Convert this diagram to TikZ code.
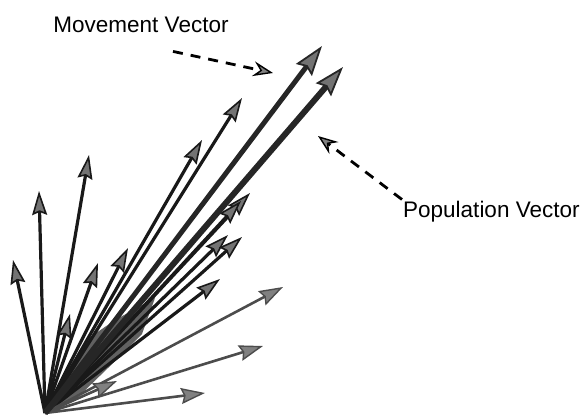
\documentclass[tikz,border=0pt]{standalone}
\usepackage{fontspec}
\setmainfont{Liberation Sans}
\usepackage{tikz}
\usetikzlibrary{arrows.meta}

\begin{document}
\begin{tikzpicture}[x=1pt, y=-1pt,
    vec/.style={line width=3.2pt, draw=black!90,
      -{Stealth[length=24pt, width=15pt, inset=3pt, line width=1.6pt, fill=black!55]}},
    faint/.style={line width=2.6pt, draw=black!70,
      -{Stealth[length=24pt, width=16pt, inset=3pt, line width=1.4pt, fill=black!50]}},
    bigvec/.style={line width=5pt, draw=black!85,
      -{Stealth[length=30pt, width=20pt, inset=4pt, line width=1.8pt, fill=black!55]}},
    pointer/.style={line width=2.8pt, dash pattern=on 10pt off 8pt,
      -{Stealth[length=20pt, width=15pt, inset=7pt, line width=1.4pt, fill=black!50]}},
    label/.style={font=\fontsize{22.5}{27}\selectfont, inner sep=1pt}]
  \useasboundingbox (0,0) rectangle (583,417);

  % Common origin of all cell vectors
  \coordinate (O) at (45,413);

  % Tips of the single cell vectors
  \coordinate (C1) at (13,260);
  \coordinate (C2) at (39,191);
  \coordinate (C3) at (89,155);
  \coordinate (C4) at (70,314);
  \coordinate (C5) at (98,263);
  \coordinate (C6) at (128,248);
  \coordinate (C7) at (202,140);
  \coordinate (C8) at (242,98);
  \coordinate (C9) at (250,193);
  \coordinate (C10) at (241,201);
  \coordinate (C11) at (228,235);
  \coordinate (C12) at (242,237);
  \coordinate (C13) at (220,279);
  \coordinate (C14) at (283,287);
  \coordinate (C15) at (263,346);
  \coordinate (C16) at (205,393);
  \coordinate (C17) at (117,381);

  % Tips of the two summed vectors
  \coordinate (M) at (322,46);
  \coordinate (P) at (343,67);

  % Dense fan just above the origin
  \fill[black!62] (O) -- (72,372) -- (86,340) -- (115,320) -- (155,298)
    -- (142,334) -- (108,368) -- (75,400) -- cycle;

  % Cell vectors
  \draw[vec] (O) -- (C1);
  \draw[vec] (O) -- (C2);
  \draw[vec] (O) -- (C3);
  \draw[vec] (O) -- (C4);
  \draw[vec] (O) -- (C5);
  \draw[vec] (O) -- (C6);
  \draw[vec] (O) -- (C7);
  \draw[vec] (O) -- (C8);
  \draw[vec] (O) -- (C9);
  \draw[vec] (O) -- (C10);
  \draw[vec] (O) -- (C11);
  \draw[vec] (O) -- (C12);
  \draw[vec] (O) -- (C13);
  \draw[faint] (O) -- (C14);
  \draw[faint] (O) -- (C15);
  \draw[faint] (O) -- (C16);
  \draw[faint] (O) -- (C17);

  % Movement and population vectors
  \draw[bigvec] (O) -- (M);
  \draw[bigvec, line width=6pt] (O) -- (P);

  % Labels with their pointers
  \node[label, anchor=base] (mv) at (141,33) {Movement Vector};
  \node[label, anchor=base west] (pv) at (402,217) {Population Vector};

  \coordinate (mvend) at (273,73);
  \coordinate (pvend) at (318,136);
  \draw[pointer] ([xshift=32pt, yshift=-17pt]mv.south) -- (mvend);
  \draw[pointer] (pv.north west) -- (pvend);
\end{tikzpicture}
\end{document}
